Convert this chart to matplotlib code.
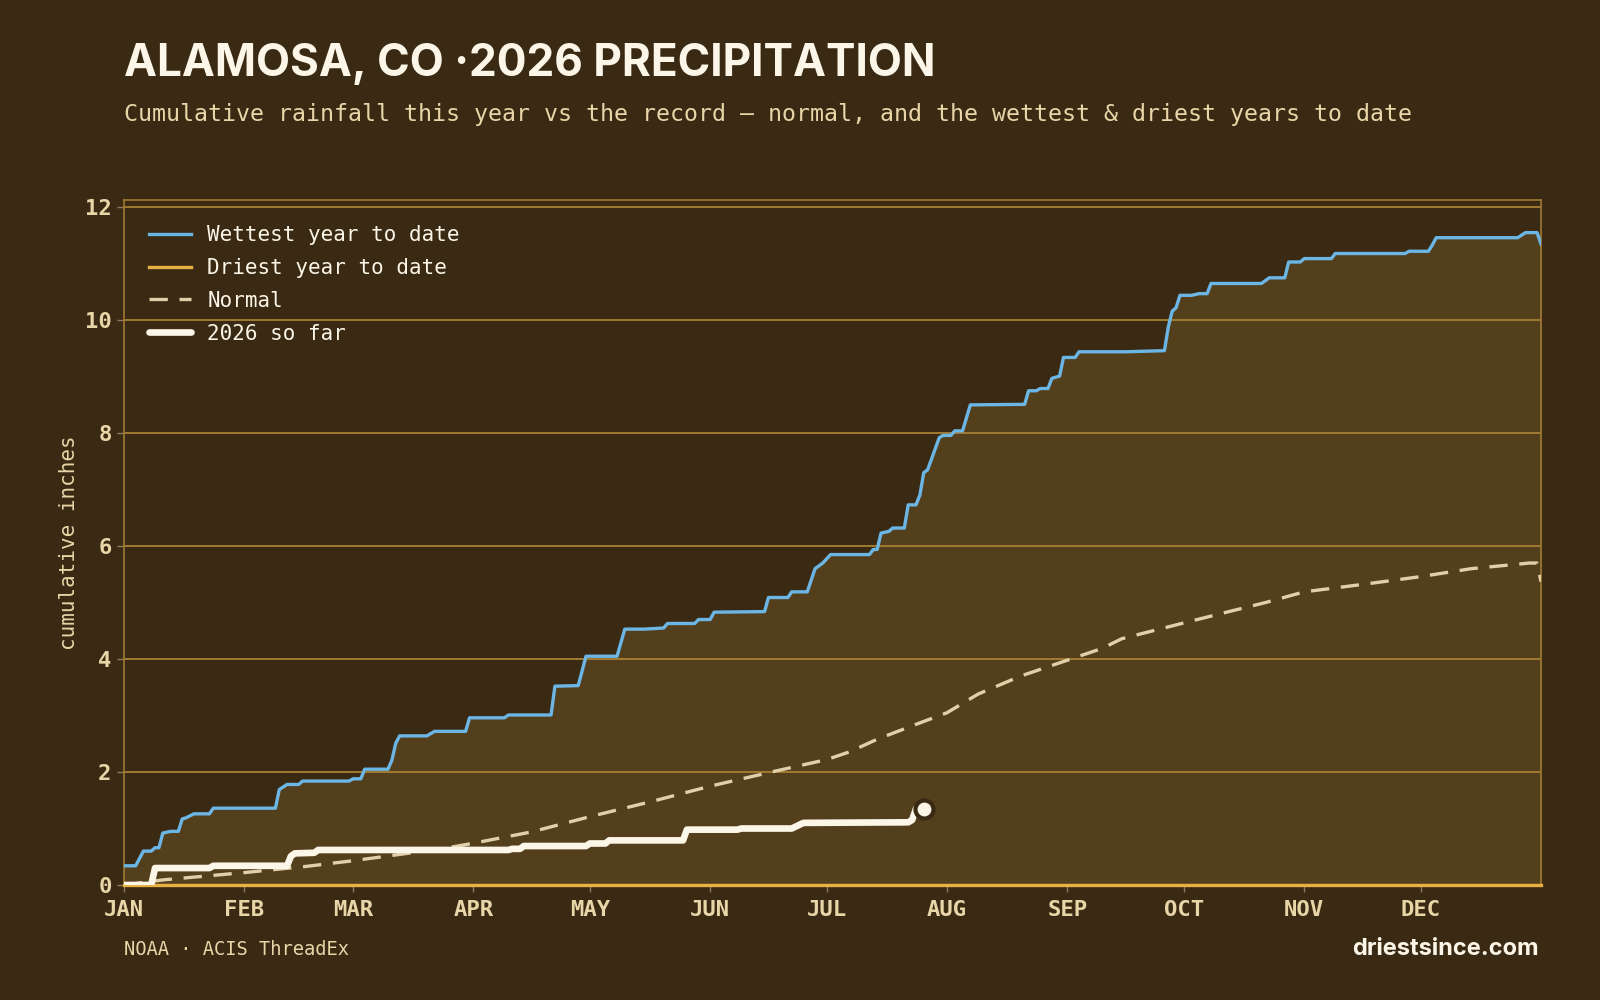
import matplotlib
matplotlib.use("Agg")
import matplotlib.pyplot as plt

# ---------------- data ----------------
MONTHS = ["JAN", "FEB", "MAR", "APR", "MAY", "JUN", "JUL", "AUG", "SEP", "OCT", "NOV", "DEC"]
MONTH_START_DAY = [0, 31, 59, 90, 120, 151, 181, 212, 243, 273, 304, 334]
Y_TICKS = [0, 2, 4, 6, 8, 10, 12]

WET_DAY = [0, 3, 5, 7, 8, 9, 10, 12, 14, 15, 16, 18, 22, 23, 39, 40, 42, 45, 46, 58, 59, 61,
           62, 68, 69, 70, 71, 78, 80, 88, 89, 98, 99, 110, 111, 117, 119, 127, 129, 134, 139,
           140, 147, 148, 151, 152, 165, 166, 171, 172, 176, 178, 180, 182, 192, 193, 194, 195,
           197, 198, 201, 202, 204, 205, 206, 207, 210, 211, 213, 214, 216, 218, 232, 233, 235,
           236, 238, 239, 241, 242, 245, 246, 258, 268, 269, 270, 271, 272, 275, 277, 279, 280,
           293, 295, 299, 300, 303, 304, 311, 312, 330, 331, 336, 337, 338, 359, 361, 364, 365]
WET_VAL = [0.34, 0.34, 0.60, 0.60, 0.66, 0.66, 0.92, 0.95, 0.95, 1.17, 1.19, 1.26, 1.26, 1.36,
           1.36, 1.69, 1.78, 1.78, 1.84, 1.84, 1.88, 1.88, 2.05, 2.05, 2.21, 2.51, 2.64, 2.64,
           2.72, 2.72, 2.96, 2.96, 3.01, 3.01, 3.52, 3.53, 4.05, 4.05, 4.53, 4.53, 4.55, 4.63,
           4.63, 4.70, 4.70, 4.83, 4.84, 5.09, 5.09, 5.19, 5.19, 5.60, 5.70, 5.85, 5.85, 5.94,
           5.94, 6.23, 6.26, 6.32, 6.32, 6.73, 6.73, 6.90, 7.30, 7.35, 7.92, 7.96, 7.96, 8.04,
           8.04, 8.50, 8.51, 8.75, 8.75, 8.79, 8.79, 8.97, 9.01, 9.34, 9.34, 9.44, 9.44, 9.46,
           9.88, 10.16, 10.22, 10.44, 10.44, 10.47, 10.47, 10.65, 10.65, 10.75, 10.75, 11.03,
           11.03, 11.09, 11.09, 11.18, 11.18, 11.22, 11.22, 11.33, 11.46, 11.46, 11.55, 11.55,
           11.35]

DRY_DAY = [0, 365]
DRY_VAL = [0.0, 0.0]

NORMAL_DAY = [0, 10, 31, 47, 59, 73, 81, 90, 105, 120, 136, 151, 168, 181, 187, 194, 205, 212,
              220, 231, 243, 252, 257, 273, 284, 294, 304, 320, 334, 347, 362, 364, 365]
NORMAL_VAL = [0.0, 0.09, 0.22, 0.33, 0.43, 0.56, 0.63, 0.74, 0.94, 1.21, 1.48, 1.75, 2.02, 2.22,
              2.36, 2.58, 2.87, 3.05, 3.38, 3.70, 3.98, 4.19, 4.36, 4.64, 4.83, 5.00, 5.19, 5.33,
              5.46, 5.60, 5.70, 5.70, 5.37]

CUR_DAY = [0, 7, 8, 22, 23, 42, 43, 44, 49, 50, 99, 100, 102, 103, 119, 120, 124, 125, 144,
           145, 158, 159, 172, 175, 202, 203, 204, 206]
CUR_VAL = [0.0, 0.0, 0.30, 0.30, 0.34, 0.34, 0.51, 0.56, 0.57, 0.62, 0.62, 0.64, 0.64, 0.69,
           0.69, 0.735, 0.735, 0.79, 0.79, 0.98, 0.98, 1.0, 1.0, 1.10, 1.11, 1.15, 1.35, 1.35]

TITLE = "ALAMOSA, CO \u00b72026 PRECIPITATION"
SUBTITLE = "Cumulative rainfall this year vs the record \u2014 normal, and the wettest & driest years to date"

# ---------------- style ----------------
BG = "#3a2a13"
FILL = "#543f1d"
GOLD = "#a07b32"
CREAM = "#e8d5a8"
WHITE = "#fbf6e8"
BLUE = "#6cb6e6"
ORANGE = "#e8b040"
NORMAL_C = "#e0d0a8"
MONO = ["DejaVu Sans Mono"]
SANS = ["Inter", "Open Sans", "DejaVu Sans"]

fig = plt.figure(figsize=(16, 10), dpi=100, facecolor=BG)
ax = fig.add_axes([124 / 1600, 1 - 885 / 1000, (1541 - 124) / 1600, (885 - 200) / 1000])
ax.set_facecolor(BG)

ax.fill_between(WET_DAY, WET_VAL, 0, color=FILL, lw=0, zorder=0.3)
ax.set_axisbelow(True)
ax.yaxis.grid(True, color=GOLD, lw=1.4, zorder=0.5)
ax.xaxis.grid(False)

ax.plot(WET_DAY, WET_VAL, color=BLUE, lw=2.4, label="Wettest year to date", zorder=3,
        solid_joinstyle="round")
ax.plot(DRY_DAY, DRY_VAL, color=ORANGE, lw=2.4, label="Driest year to date", zorder=3,
        clip_on=False)
ax.plot(NORMAL_DAY, NORMAL_VAL, color=NORMAL_C, lw=2.4, ls=(0, (5.5, 3.5)), label="Normal",
        zorder=3)
ax.plot(CUR_DAY, CUR_VAL, color=WHITE, lw=4.8, label="2026 so far", zorder=4,
        solid_joinstyle="round", solid_capstyle="round")
ax.plot(CUR_DAY[-1:], CUR_VAL[-1:], "o", ms=13, mfc=WHITE, mec=BG, mew=3, zorder=5)

ax.set_xlim(0, 365)
ax.set_ylim(0, max(WET_VAL) * 1.05)
ax.set_xticks(MONTH_START_DAY)
ax.set_xticklabels(MONTHS)
ax.set_yticks(Y_TICKS)
ax.tick_params(axis="both", colors="#8c7a58", length=5, width=1, labelcolor=CREAM,
               labelsize=16)
for lab in ax.get_xticklabels() + ax.get_yticklabels():
    lab.set_family(MONO)
    lab.set_fontweight("bold")
ax.tick_params(axis="x", pad=6)
ax.tick_params(axis="y", pad=4)

for s in ["top", "right", "left"]:
    ax.spines[s].set_color(GOLD)
    ax.spines[s].set_linewidth(1.2)
ax.spines["bottom"].set_color(ORANGE)
ax.spines["bottom"].set_linewidth(1.5)

ax.set_ylabel("cumulative inches", family=MONO, fontsize=15, color=CREAM, labelpad=4)

leg = ax.legend(loc="upper left", bbox_to_anchor=(0.0045, 0.991), frameon=False,
                prop={"family": MONO, "size": 15}, labelcolor=WHITE, handlelength=2.0,
                handletextpad=0.8, labelspacing=0.62, borderaxespad=0.5)

fig.text(124 / 1600, 1 - 76 / 1000, TITLE, family=SANS,
         fontweight="bold", fontsize=31.8, color=WHITE, ha="left", va="baseline")
fig.text(124 / 1600, 1 - 121 / 1000, SUBTITLE, family=MONO, fontsize=16.75, color=CREAM,
         ha="left", va="baseline")
fig.text(124 / 1600, 1 - 955 / 1000, "NOAA \u00b7 ACIS ThreadEx", family=MONO, fontsize=13.5,
         color=CREAM, ha="left", va="baseline")
fig.text(1539 / 1600, 1 - 955 / 1000, "driestsince.com", family=SANS,
         fontweight="bold", fontsize=17, color=WHITE, ha="right", va="baseline")

fig.savefig("out.png", dpi=100, facecolor=BG)
